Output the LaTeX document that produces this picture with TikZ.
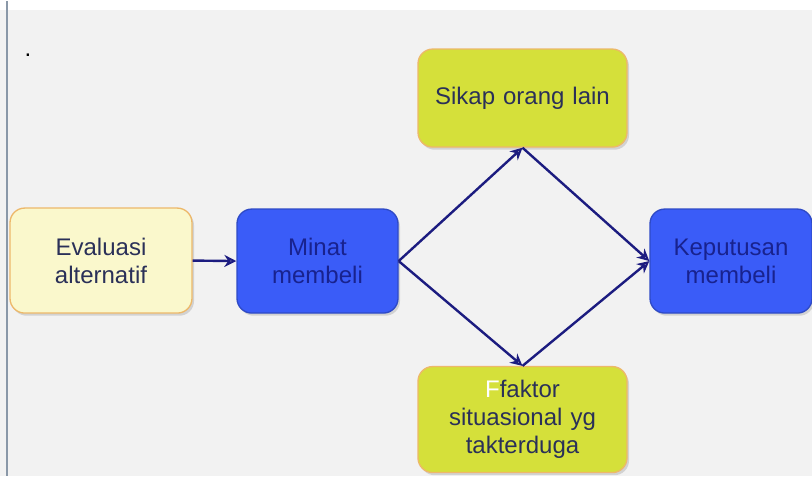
\documentclass[tikz,border=0pt]{standalone}
\usepackage{fontspec}
\setmainfont{Liberation Sans}
\usetikzlibrary{arrows.meta,shadows}
\definecolor{pagebg}{HTML}{F2F2F2}
\definecolor{edgeline}{HTML}{8A98A8}
\definecolor{paleyellow}{HTML}{FAF8CC}
\definecolor{limeyellow}{HTML}{D5E03A}
\definecolor{boxblue}{HTML}{3A5CF8}
\definecolor{orangeedge}{HTML}{EDB86A}
\definecolor{inktext}{HTML}{2A3058}
\definecolor{bluetext}{HTML}{18228E}
\definecolor{arrowblue}{HTML}{1C1C80}
\begin{document}
\begin{tikzpicture}[x=0.75pt,y=-0.75pt,
  card/.style={rounded corners=11pt, draw=orangeedge, line width=1pt,
    align=center, inner sep=0pt, text=inktext,
    font=\fontsize{18}{21}\selectfont,
    drop shadow={shadow xshift=1.5pt, shadow yshift=-2pt, fill=black!40, opacity=0.35}},
  bluecard/.style={card, fill=boxblue, draw=boxblue!80!black, text=bluetext},
  link/.style={draw=arrowblue, line width=1.8pt, -{Stealth[length=9pt,width=9pt,open]}}
]
% page
\fill[pagebg] (0,0) rectangle (812,475);
\fill[white] (0,0) rectangle (812,9);
\draw[edgeline, line width=1.6pt] (7,0) -- (7,475);
\useasboundingbox (0,0) rectangle (812,475);
\node (dot) at (28,54) {\fontsize{18}{18}\selectfont .};

% boxes
\node[card, fill=paleyellow, text width=130pt,
      minimum width=136.5pt, minimum height=78.75pt] (eval) at (101,259.5)
      {Evaluasi\\alternatif};
\node[bluecard, minimum width=120.75pt,
      minimum height=78pt, text width=110pt] (minat) at (317.5,260)
      {Minat\\membeli};
\node[card, fill=limeyellow, minimum width=156.75pt, minimum height=73.5pt,
      text width=150pt] (sikap) at (522.5,97) {Sikap orang lain};
\node[card, fill=limeyellow, minimum width=156.75pt, minimum height=79.5pt,
      text width=150pt] (faktor) at (522.5,418.5)
      {\textcolor{white}{F}faktor\\situasional yg\\takterduga};
\node[bluecard, minimum width=121.5pt,
      minimum height=78pt, text width=112pt] (keputusan) at (731,260)
      {Keputusan\\membeli};

% connectors
\draw[link] (eval.east) -- (minat.west);
\draw[link] (minat.east) -- (sikap.south);
\draw[link] (minat.east) -- (faktor.north);
\draw[link] (sikap.south) -- (keputusan.west);
\draw[link] (faktor.north) -- (keputusan.west);
\end{tikzpicture}
\end{document}
